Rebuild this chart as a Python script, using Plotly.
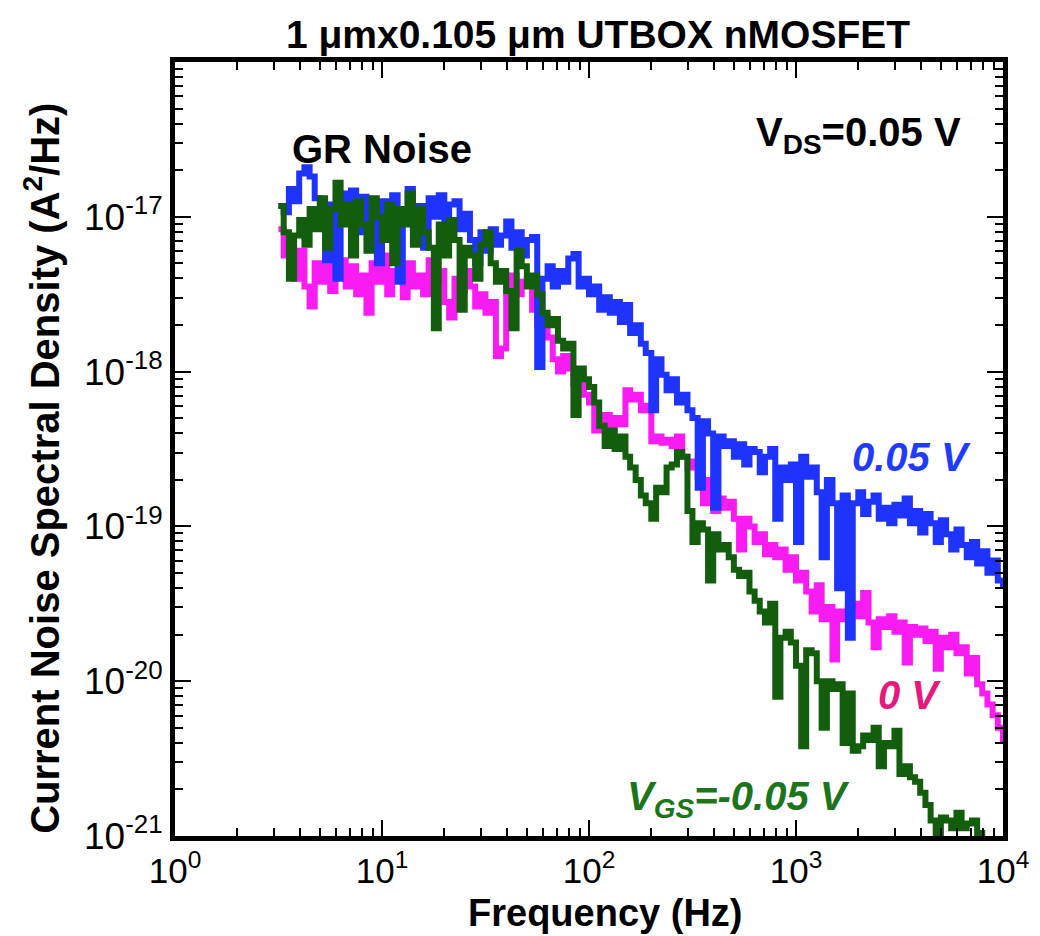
import plotly.graph_objects as go

# Frequency grid of the measured spectra (Hz), 40 points per decade
freq = [3.16, 3.35, 3.55, 3.76, 3.98, 4.22, 4.47, 4.73, 5.01, 5.31, 5.62, 5.96, 6.31, 6.68, 7.08,
        7.50, 7.94, 8.41, 8.91, 9.44,
        10.0, 10.6, 11.2, 11.9, 12.6, 13.3, 14.1, 15.0, 15.8, 16.8, 17.8, 18.8, 20.0, 21.1, 22.4,
        23.7, 25.1, 26.6, 28.2, 29.9, 31.6, 33.5, 35.5, 37.6, 39.8, 42.2, 44.7, 47.3, 50.1, 53.1,
        56.2, 59.6, 63.1, 66.8, 70.8, 75.0, 79.4, 84.1, 89.1, 94.4,
        100, 106, 112, 119, 126, 133, 141, 150, 158, 168, 178, 188, 200, 211, 224,
        237, 251, 266, 282, 299, 316, 335, 355, 376, 398, 422, 447, 473, 501, 531,
        562, 596, 631, 668, 708, 750, 794, 841, 891, 944,
        1000, 1060, 1120, 1190, 1260, 1330, 1410, 1500, 1580, 1680, 1780, 1880, 2000, 2110, 2240,
        2370, 2510, 2660, 2820, 2990, 3160, 3350, 3550, 3760, 3980, 4220, 4470, 4730, 5010, 5310,
        5620, 5960, 6310, 6680, 7080, 7500, 7940, 8410, 8910, 9440,
        10000]

# log10 of the current noise spectral density (A^2/Hz) for each gate bias
log_s_vgs_p005 = [
    -16.93, -16.97, -16.82, -16.90, -16.72, -16.68, -16.74, -16.88, -16.95, -17.28,
    -16.92, -17.40, -16.85, -16.98, -16.83, -17.10, -16.87, -17.02, -16.92, -17.30,
    -16.90, -17.12, -16.86, -17.42, -16.95, -16.82, -17.05, -16.93, -17.20, -16.88,
    -17.00, -16.86, -17.15, -16.92, -16.90, -17.08, -16.98, -17.15, -17.30, -17.10,
    -17.22, -17.08, -17.18, -17.12, -17.03, -17.20, -17.10, -17.25, -17.15, -17.13,
    -17.97, -17.40, -17.32, -17.45, -17.35, -17.42, -17.27, -17.24, -17.45, -17.40,
    -17.50, -17.45, -17.60, -17.52, -17.62, -17.55, -17.68, -17.57, -17.75, -17.70,
    -17.82, -17.88, -18.25, -17.92, -18.02, -18.12, -18.05, -18.20, -18.15, -18.25,
    -18.30, -18.75, -18.32, -18.40, -18.88, -18.42, -18.48, -18.45, -18.55, -18.47,
    -18.60, -18.50, -18.52, -18.65, -18.55, -18.50, -18.95, -18.62, -18.70, -18.60,
    -19.10, -18.55, -18.68, -18.62, -18.78, -19.20, -18.70, -18.85, -19.40, -18.80,
    -19.72, -18.85, -18.78, -18.92, -18.84, -18.80, -18.95, -18.88, -18.98, -18.86,
    -18.93, -18.82, -18.98, -18.90, -19.04, -18.92, -18.98, -19.10, -18.96, -19.05,
    -19.15, -19.02, -19.12, -19.20, -19.10, -19.24, -19.16, -19.30, -19.22, -19.35,
    -19.40]

log_s_vgs_0 = [
    -17.08, -17.25, -17.18, -17.40, -17.22, -17.45, -17.58, -17.30, -17.42, -17.25,
    -17.48, -17.35, -17.28, -17.45, -17.32, -17.50, -17.38, -17.62, -17.30, -17.42,
    -17.25, -17.50, -17.35, -17.40, -17.52, -17.30, -17.45, -17.38, -17.50, -17.28,
    -17.42, -17.35, -17.55, -17.65, -17.40, -17.48, -17.35, -17.45, -17.58, -17.50,
    -17.62, -17.55, -17.90, -17.85, -17.45, -17.38, -17.50, -17.42, -17.40, -17.60,
    -17.70, -17.65, -17.78, -17.92, -18.00, -17.90, -17.98, -18.08, -18.02, -18.15,
    -18.20, -18.38, -18.35, -18.28, -18.40, -18.30, -18.34, -18.12, -18.18, -18.15,
    -18.25, -18.22, -18.45, -18.42, -18.46, -18.44, -18.48, -18.42, -18.55, -18.62,
    -18.58, -18.68, -18.85, -18.70, -18.90, -18.82, -18.88, -18.84, -18.95, -19.15,
    -18.95, -19.00, -19.10, -19.05, -19.18, -19.12, -19.20, -19.15, -19.28, -19.20,
    -19.35, -19.30, -19.42, -19.55, -19.38, -19.60, -19.52, -19.86, -19.55, -19.60,
    -19.52, -19.50, -19.58, -19.43, -19.62, -19.78, -19.60, -19.65, -19.58, -19.68,
    -19.62, -19.88, -19.65, -19.70, -19.66, -19.74, -19.68, -19.92, -19.72, -19.78,
    -19.70, -19.82, -19.78, -19.95, -19.85, -20.02, -20.08, -20.15, -20.22, -20.30,
    -20.40]

log_s_vgs_m005 = [
    -16.93, -17.10, -17.40, -17.12, -17.02, -17.18, -16.95, -17.08, -16.88, -17.20,
    -16.95, -16.78, -17.05, -16.92, -17.25, -16.90, -17.05, -17.22, -16.88, -17.00,
    -17.15, -16.92, -17.30, -16.95, -17.05, -16.85, -17.18, -16.95, -17.10, -17.20,
    -17.72, -17.05, -17.25, -17.02, -17.15, -17.60, -17.20, -17.25, -17.40, -17.18,
    -17.10, -17.30, -17.42, -17.35, -17.48, -17.72, -17.22, -17.32, -17.45, -17.38,
    -17.50, -17.62, -17.70, -17.66, -17.80, -17.85, -17.82, -18.28, -17.98, -18.05,
    -18.10, -18.20, -18.35, -18.48, -18.38, -18.50, -18.42, -18.55, -18.62, -18.70,
    -18.80, -18.85, -18.95, -18.75, -18.78, -18.62, -18.60, -18.52, -18.55, -18.90,
    -19.10, -18.98, -19.02, -19.35, -19.05, -19.15, -19.12, -19.20, -19.28, -19.32,
    -19.30, -19.42, -19.48, -19.55, -19.62, -19.50, -20.10, -19.72, -19.68, -19.75,
    -19.90, -20.42, -19.80, -19.82, -20.00, -20.30, -20.00, -20.05, -20.02, -20.40,
    -20.08, -20.45, -20.42, -20.35, -20.38, -20.30, -20.55, -20.40, -20.42, -20.32,
    -20.60, -20.55, -20.62, -20.65, -20.72, -20.80, -20.90, -21.05, -20.88, -20.90,
    -20.95, -20.85, -20.95, -20.92, -20.90, -20.98, -21.10, -21.20, -21.28, -21.35,
    -21.40]

# drawn back to front: 0 V, +0.05 V, -0.05 V
series = [
    ("V<sub>GS</sub>=0 V", log_s_vgs_0, "#f81cf2"),
    ("V<sub>GS</sub>=0.05 V", log_s_vgs_p005, "#1f33ff"),
    ("V<sub>GS</sub>=-0.05 V", log_s_vgs_m005, "#135e0d"),
]

x_major = [1, 10, 100, 1000, 10000]
x_major_text = ["10<sup>0</sup>", "10<sup>1</sup>", "10<sup>2</sup>", "10<sup>3</sup>", "10<sup>4</sup>"]
y_major = [1e-21, 1e-20, 1e-19, 1e-18, 1e-17]
y_major_text = ["10<sup>-21</sup>", "10<sup>-20</sup>", "10<sup>-19</sup>", "10<sup>-18</sup>", "10<sup>-17</sup>"]

x_minor = [m * 10 ** d for d in range(0, 4) for m in range(2, 10)]
y_minor = [m * 10.0 ** d for d in range(-21, -16) for m in range(2, 10)]

fig = go.Figure()
for name, log_vals, color in series:
    fig.add_trace(go.Scatter(
        x=freq, y=[10 ** v for v in log_vals], mode="lines", name=name,
        line=dict(color=color, width=6, shape="hv"),
    ))

FONT = "Liberation Sans, Arial, Helvetica, sans-serif"

axis_common = dict(
    showline=True, linewidth=5, linecolor="black", mirror="allticks",
    ticks="inside", ticklen=16, tickwidth=2, tickcolor="black",
    showgrid=False, zeroline=False,
)

fig.update_xaxes(
    type="log", range=[0, 4], tickvals=x_major, ticktext=x_major_text,
    tickfont=dict(family=FONT, size=35, color="black"),
    minor=dict(tickvals=x_minor, ticks="inside", ticklen=8, tickwidth=2, tickcolor="black", showgrid=False),
    **axis_common,
)
fig.update_yaxes(
    type="log", range=[-21, -16], tickvals=y_major, ticktext=y_major_text,
    tickfont=dict(family=FONT, size=37, color="black"),
    minor=dict(tickvals=y_minor, ticks="inside", ticklen=8, tickwidth=2, tickcolor="black", showgrid=False),
    **axis_common,
)

# axis titles
fig.add_annotation(x=0.519, y=-0.099, xref="paper", yref="paper", showarrow=False,
                   xanchor="center", yanchor="middle",
                   text="<b>Frequency (Hz)</b>",
                   font=dict(family=FONT, size=38, color="black"))
fig.add_annotation(x=-0.160, y=0.475, xref="paper", yref="paper", showarrow=False, textangle=-90,
                   xanchor="center", yanchor="middle",
                   text="<b>Current Noise Spectral Density (A<sup>2</sup>/Hz)</b>",
                   font=dict(family=FONT, size=40, color="black"))

# in-plot labels (x in log10 Hz, y in log10 A^2/Hz)
labels = [
    dict(x=1.0, y=-16.56, text="<b>GR Noise</b>", color="black"),
    dict(x=3.30, y=-16.47, text="<b>V<sub>DS</sub>=0.05 V</b>", color="black"),
    dict(x=3.56, y=-18.55, text="<b><i>0.05 V</i></b>", color="#1f3bff"),
    dict(x=3.55, y=-20.09, text="<b><i>0 V</i></b>", color="#e41b7c"),
    dict(x=2.72, y=-20.76, text="<b><i>V<sub>GS</sub>=-0.05 V</i></b>", color="#1c751a"),
]
for a in labels:
    fig.add_annotation(
        x=a["x"], y=a["y"], xref="x", yref="y", text=a["text"], showarrow=False,
        font=dict(family=FONT, size=40, color=a["color"]),
    )

fig.update_layout(
    width=1040, height=936,
    margin=dict(l=175, r=37, t=62, b=100),
    paper_bgcolor="white", plot_bgcolor="white",
    showlegend=False,
    title=dict(text="<b>1 \u03bcmx0.105 \u03bcm UTBOX nMOSFET</b>", x=0.575, xanchor="center",
               y=0.963, yanchor="middle", font=dict(family=FONT, size=39, color="black")),
)

fig.write_html("out.html")
